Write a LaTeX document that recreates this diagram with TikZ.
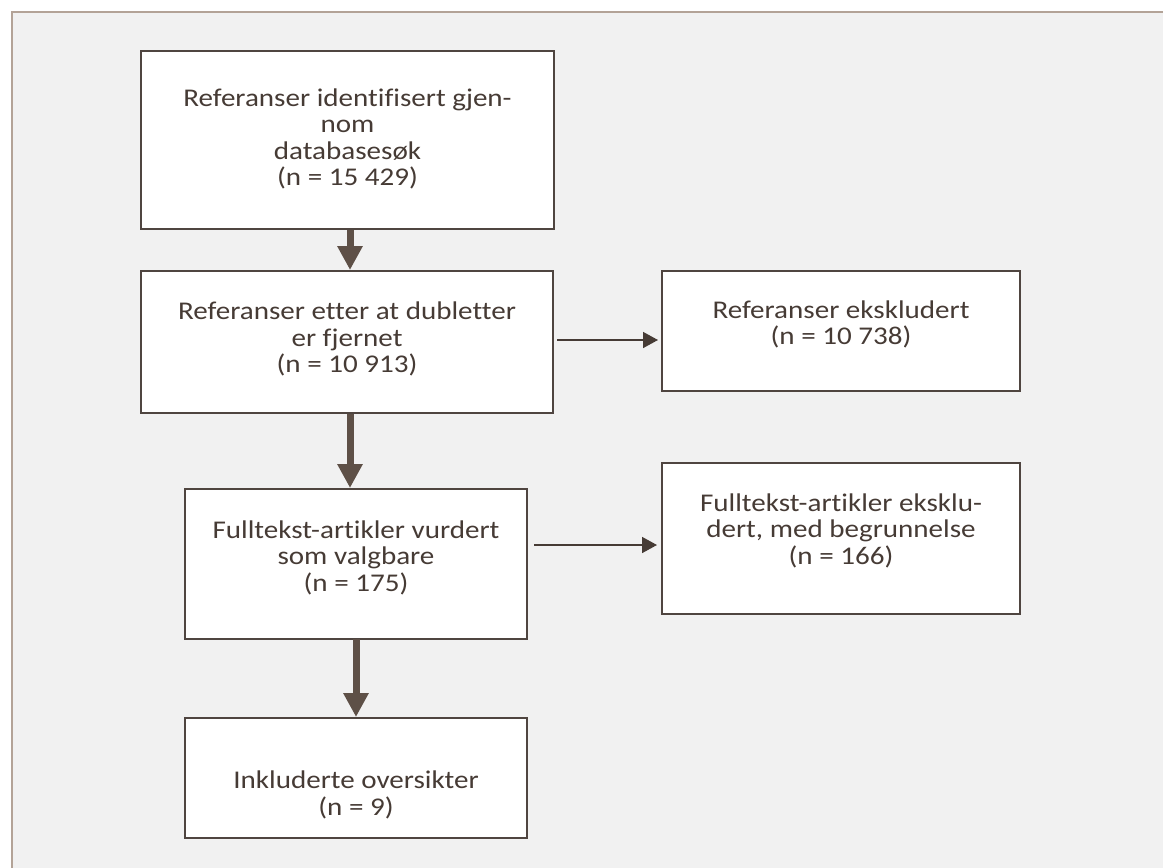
\documentclass[tikz,border=0pt]{standalone}
\usepackage{fontspec}
\setmainfont{Carlito}[FakeStretch=1.14,Ligatures=NoCommon]
\usetikzlibrary{arrows.meta,calc}
\definecolor{bgc}{HTML}{F1F1F1}
\definecolor{framec}{HTML}{B3A397}
\definecolor{boxc}{HTML}{4F4540}
\definecolor{txtc}{HTML}{463B35}
\definecolor{arrc}{HTML}{5E5047}
\newcommand{\boxtext}[2]{\raisebox{#1}[0pt][0pt]{\begin{tabular}{@{}c@{}}#2\end{tabular}}}
\tikzset{
  box/.style={draw=boxc, line width=2pt, fill=white, inner sep=0pt,
    text=txtc, font=\fontsize{25.5}{26.5}\selectfont},
  bigarrow/.style={draw=arrc, line width=7pt, -{Triangle[length=24pt,width=24pt]}},
  thinarrow/.style={draw=txtc, line width=1.6pt, -{Triangle[length=15pt,width=16pt]}}
}
\begin{document}
\begin{tikzpicture}[x=1pt,y=-1pt]
\useasboundingbox (0,0) rectangle (1163,868);
\fill[white] (0,0) rectangle (1163,868);
\draw[framec, line width=2pt, fill=bgc] (12,12) rectangle (1180,890);
\node[box, minimum width=413pt, minimum height=178pt] (b1) at (347.5,140)
  {\boxtext{-7pt}{Referanser identifisert gjen-\\nom\\databasesøk\\(n = 15 429)}};
\node[box, minimum width=412pt, minimum height=142pt] (b2) at (347,342)
  {\boxtext{-5pt}{Referanser etter at dubletter\\er fjernet\\(n = 10 913)}};
\node[box, minimum width=342pt, minimum height=150pt] (b3) at (356,564)
  {\boxtext{-1.5pt}{Fulltekst-artikler vurdert\\som valgbare\\(n = 175)}};
\node[box, minimum width=342pt, minimum height=120pt] (b4) at (356,778)
  {\boxtext{-25pt}{Inkluderte oversikter\\(n = 9)}};
\node[box, minimum width=358pt, minimum height=120pt] (r1) at (841,331)
  {\boxtext{-1.5pt}{Referanser ekskludert\\(n = 10 738)}};
\node[box, minimum width=358pt, minimum height=151pt] (r2) at (841,538.5)
  {\boxtext{0pt}{Fulltekst-artikler eksklu-\\dert, med begrunnelse\\(n = 166)}};
\coordinate (ax) at (350,0);
\coordinate (y1) at (0,340);
\coordinate (y2) at (0,545);
\draw[bigarrow] (b1.south -| ax) -- (b2.north -| ax);
\draw[bigarrow] (b2.south -| ax) -- (b3.north -| ax);
\draw[bigarrow] ([yshift=1pt]b3.south) -- (b4.north);
\draw[thinarrow] ($(b2.east |- y1)+(3,0)$) -- ($(r1.west |- y1)+(-3,0)$);
\draw[thinarrow] ($(b3.east |- y2)+(6,0)$) -- ($(r2.west |- y2)+(-4,0)$);
\end{tikzpicture}
\end{document}
